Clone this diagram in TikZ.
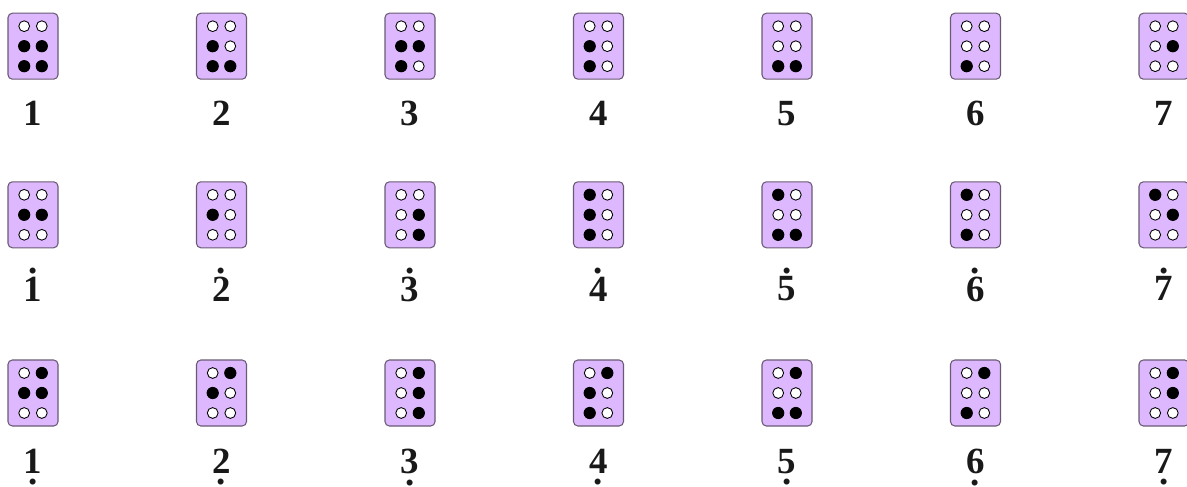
\documentclass[tikz,border=0pt]{standalone}
\usepackage{fontspec}
\setmainfont{Liberation Serif}
\usepackage{xcolor}
\usepackage{tikz}
\usetikzlibrary{positioning}
\definecolor{cellfill}{RGB}{222,184,255}
\definecolor{cellborder}{RGB}{105,90,115}
\definecolor{inkblack}{RGB}{0,0,0}

% braille cell: name, position, raised dots
\newcommand{\brcell}[3]{%
  \node[cell] (#1) at (#2) {};
  \foreach \k/\dx/\dy in {1/-1/1,2/-1/0,3/-1/-1,4/1/1,5/1/0,6/1/-1}{
    \coordinate (#1-\k) at ([shift={(\dx*0.176,\dy*0.4)}]#1.center);
    \draw[dotoff] (#1-\k) circle (0.108);
  }
  \foreach \k in {#3}
    \fill[doton] (#1-\k) circle (0.122);
}
% numbers with octave dots
\newcommand{\hinote}[1]{\leavevmode\vbox{\offinterlineskip
  \halign{\hfil##\hfil\cr .\cr\noalign{\kern1.8pt}#1\cr}}}
\newcommand{\lonote}[1]{\leavevmode\vtop{\offinterlineskip
  \halign{\hfil##\hfil\cr #1\cr\noalign{\kern3.4pt}.\cr}}}

\begin{document}
\begin{tikzpicture}[
  cell/.style={draw=cellborder, fill=cellfill, rounded corners=2.5pt, line width=0.6pt,
               minimum width=1.0cm, minimum height=1.32cm, inner sep=0pt},
  dotoff/.style={draw=inkblack, fill=white, line width=0.5pt},
  doton/.style={fill=inkblack},
  digit/.style={font=\fontsize{21}{24}\selectfont\bfseries, text=black!90, inner sep=0pt}]
\useasboundingbox (0,0) rectangle (23.74,9.72);

%% middle octave
\brcell{mid1}{0.66,8.796}{2,3,5,6}
\brcell{mid2}{4.43,8.796}{2,3,6}
\brcell{mid3}{8.20,8.796}{2,3,5}
\brcell{mid4}{11.97,8.796}{2,3}
\brcell{mid5}{15.74,8.796}{3,6}
\brcell{mid6}{19.51,8.796}{3}
\brcell{mid7}{23.28,8.796}{5}
\node[digit, below=0.42cm of mid1] (mid1l) {1};
\node[digit, below=0.42cm of mid2] (mid2l) {2};
\node[digit, below=0.42cm of mid3] (mid3l) {3};
\node[digit, below=0.42cm of mid4] (mid4l) {4};
\node[digit, below=0.42cm of mid5] (mid5l) {5};
\node[digit, below=0.42cm of mid6] (mid6l) {6};
\node[digit, below=0.42cm of mid7] (mid7l) {7};

%% high octave
\brcell{hi1}{0.66,5.424}{2,5}
\brcell{hi2}{4.43,5.424}{2}
\brcell{hi3}{8.20,5.424}{5,6}
\brcell{hi4}{11.97,5.424}{1,2,3}
\brcell{hi5}{15.74,5.424}{1,3,6}
\brcell{hi6}{19.51,5.424}{1,3}
\brcell{hi7}{23.28,5.424}{1,5}
\node[digit, below=0.38cm of hi1] (hi1l) {\hinote{1}};
\node[digit, below=0.38cm of hi2] (hi2l) {\hinote{2}};
\node[digit, below=0.38cm of hi3] (hi3l) {\hinote{3}};
\node[digit, below=0.38cm of hi4] (hi4l) {\hinote{4}};
\node[digit, below=0.38cm of hi5] (hi5l) {\hinote{5}};
\node[digit, below=0.38cm of hi6] (hi6l) {\hinote{6}};
\node[digit, below=0.38cm of hi7] (hi7l) {\hinote{7}};

%% low octave
\brcell{lo1}{0.66,1.86}{2,4,5}
\brcell{lo2}{4.43,1.86}{2,4}
\brcell{lo3}{8.20,1.86}{4,5,6}
\brcell{lo4}{11.97,1.86}{2,3,4}
\brcell{lo5}{15.74,1.86}{3,4,6}
\brcell{lo6}{19.51,1.86}{3,4}
\brcell{lo7}{23.28,1.86}{4,5}
\node[digit, below=0.44cm of lo1] (lo1l) {\lonote{1}};
\node[digit, below=0.44cm of lo2] (lo2l) {\lonote{2}};
\node[digit, below=0.44cm of lo3] (lo3l) {\lonote{3}};
\node[digit, below=0.44cm of lo4] (lo4l) {\lonote{4}};
\node[digit, below=0.44cm of lo5] (lo5l) {\lonote{5}};
\node[digit, below=0.44cm of lo6] (lo6l) {\lonote{6}};
\node[digit, below=0.44cm of lo7] (lo7l) {\lonote{7}};
\end{tikzpicture}
\end{document}
